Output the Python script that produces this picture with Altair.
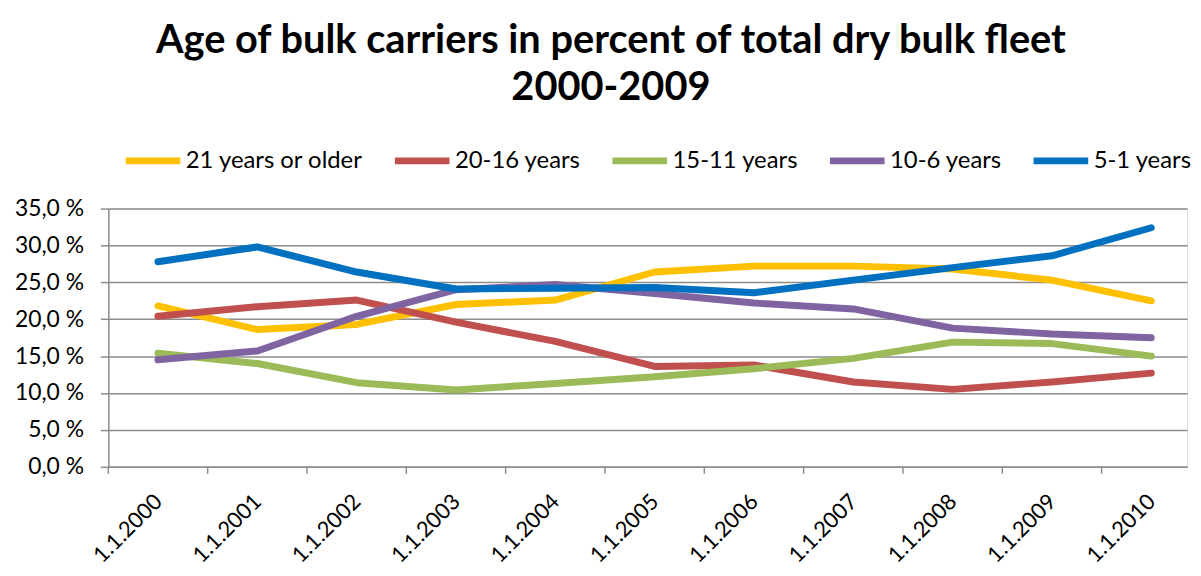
import altair as alt
import pandas as pd

dates = ["1.1.2000", "1.1.2001", "1.1.2002", "1.1.2003", "1.1.2004", "1.1.2005",
         "1.1.2006", "1.1.2007", "1.1.2008", "1.1.2009", "1.1.2010"]
series_names = ["21 years or older", "20-16 years", "15-11 years", "10-6 years", "5-1 years"]
colors = ["#FFC000", "#C0504D", "#9BBB59", "#8064A2", "#0070C0"]

old21 = [21.8, 18.6, 19.3, 22.0, 22.6, 26.4, 27.2, 27.2, 26.8, 25.3, 22.5]
y20_16 = [20.4, 21.7, 22.6, 19.6, 17.0, 13.6, 13.8, 11.5, 10.5, 11.5, 12.7]
y15_11 = [15.4, 14.0, 11.4, 10.4, 11.3, 12.2, 13.3, 14.7, 16.9, 16.7, 15.0]
y10_6 = [14.5, 15.7, 20.4, 24.0, 24.7, 23.5, 22.2, 21.4, 18.8, 18.0, 17.5]
y5_1 = [27.8, 29.8, 26.4, 24.1, 24.2, 24.3, 23.6, 25.3, 27.0, 28.6, 32.4]

all_series = [old21, y20_16, y15_11, y10_6, y5_1]
rows = []
for name, vals in zip(series_names, all_series):
    for i, v in enumerate(vals):
        rows.append({"idx": i, "date": dates[i], "series": name, "value": v})
df = pd.DataFrame(rows)

boundaries = pd.DataFrame({"b": [i - 0.5 for i in range(len(dates))]})

label_expr = "[" + ",".join("'" + d + "'" for d in dates) + "][datum.value]"

FONT = "Lato"
GRID = "#8C8C8C"

xscale = alt.Scale(domain=[-0.5, 10.36], nice=False, zero=False)

lines = alt.Chart(df).mark_line(strokeWidth=7, strokeCap="round", strokeJoin="round").encode(
    x=alt.X("idx:Q", scale=xscale,
            axis=alt.Axis(values=list(range(len(dates))), labelExpr=label_expr, title=None,
                          ticks=False, grid=False, domain=True, domainColor=GRID, domainWidth=1.5,
                          labelAngle=-45, labelAlign="right", labelBaseline="middle",
                          labelPadding=31, labelFontSize=22, labelFont=FONT, labelColor="#000000",
                          labelOverlap=False)),
    y=alt.Y("value:Q", scale=alt.Scale(domain=[0, 35], nice=False),
            axis=alt.Axis(values=[0, 5, 10, 15, 20, 25, 30, 35], title=None,
                          labelExpr="replace(format(datum.value, '.1f'), '.', ',') + ' %'",
                          grid=True, gridColor=GRID, gridWidth=1.5,
                          domain=True, domainColor=GRID, domainWidth=1.5,
                          ticks=True, tickColor=GRID, tickSize=8, tickWidth=1.5,
                          labelPadding=17, labelFontSize=23, labelFont=FONT, labelColor="#000000")),
    color=alt.Color("series:N", scale=alt.Scale(domain=series_names, range=colors),
                    legend=alt.Legend(title=None, orient="none", direction="horizontal",
                                      legendX=14, legendY=-79,
                                      symbolType="stroke", symbolSize=3025, symbolStrokeWidth=7,
                                      labelFontSize=24, labelFont=FONT, labelColor="#000000",
                                      columnPadding=17, labelOffset=2, labelLimit=400)),
    detail="series:N",
)

ticks = alt.Chart(boundaries).mark_rule(color=GRID, strokeWidth=1.5).encode(
    x=alt.X("b:Q", scale=xscale),
    y=alt.value(260),
    y2=alt.value(267),
)

chart = alt.layer(ticks, lines).properties(
    width=1086,
    height=260,
    title=alt.TitleParams(
        text=["Age of bulk carriers in percent of total dry bulk fleet", "2000-2009"],
        font=FONT, fontSize=40, fontWeight="bold", color="#000000",
        anchor="middle", lineHeight=48, offset=22, dx=-37,
    ),
    autosize=alt.AutoSizeParams(type="none"),
    padding={"left": 101, "top": 200, "right": 6, "bottom": 108},
).configure_view(stroke=None).configure(background="white")

chart.save("out.html", embed_options={"renderer": "svg", "actions": False})
